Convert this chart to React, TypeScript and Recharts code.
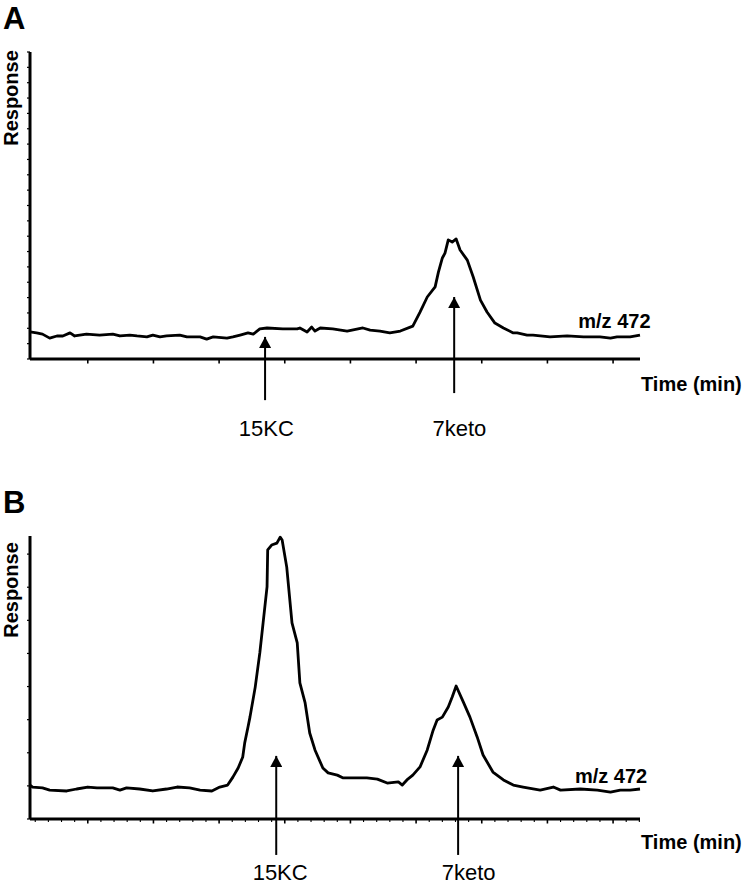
import { LineChart, Line, XAxis, YAxis, ReferenceLine, ReferenceDot } from "recharts";

const FONT = "'Liberation Sans', Arial, Helvetica, sans-serif";

const timesA = [
  0.12, 0.22, 0.31, 0.42, 0.53, 0.62, 0.73, 0.8, 0.98, 1.18,
  1.38, 1.49, 1.64, 1.75, 1.9, 1.99, 2.1, 2.2, 2.4, 2.51,
  2.71, 2.81, 2.91, 3.12, 3.21, 3.32, 3.44, 3.52, 3.62, 3.73,
  3.97, 4.19, 4.23, 4.34, 4.41, 4.46, 4.54, 4.73, 4.95, 5.19,
  5.3, 5.45, 5.6, 5.76, 5.95, 6.06, 6.17, 6.29, 6.34, 6.4,
  6.44, 6.49, 6.55, 6.61, 6.67, 6.78, 6.87, 6.98, 7.08, 7.2,
  7.33, 7.48, 7.54, 7.69, 7.78, 8.04, 8.3, 8.55, 8.8, 8.96,
  9.06, 9.26, 9.41,
];
const responseA = [
  8.8, 8.5, 8.1, 6.8, 7.5, 7.5, 8.5, 7.5, 8.1, 7.8,
  8.1, 7.5, 7.8, 7.5, 7.2, 7.8, 7.2, 7.5, 7.8, 7.2,
  7.2, 6.5, 7.2, 6.8, 7.2, 7.8, 8.5, 8.1, 9.8, 10.1,
  9.8, 9.8, 10.1, 8.8, 10.4, 9.1, 10.1, 9.8, 9.1, 10.1,
  9.4, 9.1, 8.5, 9.1, 10.7, 15.3, 20.2, 23.5, 28.3, 32.9,
  34.5, 38.8, 38.1, 39.1, 35.5, 32.2, 26.7, 19.2, 15.3, 11.7,
  10.1, 8.5, 8.5, 7.8, 7.8, 7.2, 7.5, 7.2, 7.2, 6.8,
  7.2, 7.2, 7.8,
];

// trace B (m/z 472, sample with 15KC)
const timesB = [
  0.12, 0.16, 0.31, 0.42, 0.68, 0.83, 1.0, 1.14, 1.38, 1.49,
  1.59, 1.79, 1.99, 2.2, 2.36, 2.55, 2.71, 2.89, 3.01, 3.13,
  3.21, 3.29, 3.36, 3.39, 3.44, 3.47, 3.55, 3.62, 3.67, 3.73,
  3.74, 3.8, 3.88, 3.93, 3.96, 4.03, 4.11, 4.19, 4.23, 4.31,
  4.38, 4.46, 4.58, 4.66, 4.8, 4.89, 5.04, 5.25, 5.41, 5.56,
  5.73, 5.79, 5.86, 5.95, 6.06, 6.17, 6.26, 6.32, 6.4, 6.49,
  6.55, 6.61, 6.72, 6.82, 6.93, 7.02, 7.17, 7.33, 7.48, 7.63,
  7.89, 8.09, 8.2, 8.5, 8.76, 8.96, 9.11, 9.26, 9.41,
];
const responseB = [
  12.0, 11.3, 11.0, 10.2, 9.9, 10.6, 11.3, 11.0, 11.0, 10.2,
  11.0, 10.6, 9.9, 10.6, 11.3, 11.0, 10.2, 9.9, 11.3, 12.0,
  14.8, 18.0, 21.9, 26.9, 32.5, 36.0, 46.6, 58.7, 69.3, 82.0,
  95.1, 96.8, 97.5, 99.6, 98.6, 89.0, 69.3, 62.2, 48.1, 41.0,
  30.4, 24.4, 18.0, 16.3, 15.5, 14.5, 14.5, 14.5, 14.1, 12.7,
  13.1, 12.0, 13.8, 15.5, 18.4, 24.4, 31.4, 35.0, 36.0, 39.6,
  43.1, 47.0, 41.3, 36.0, 29.0, 22.6, 16.6, 13.8, 12.0, 11.3,
  10.2, 11.3, 10.2, 10.6, 10.2, 9.5, 10.2, 10.2, 10.6,
];

const timeDomain = [0.12, 9.41];
const majorTicks = [1, 2, 3, 4, 5, 6, 7, 8, 9];
const ticksB = [
  0.2, 0.4, 0.6, 0.8, 1, 1.2, 1.4, 1.6, 1.8, 2, 2.2, 2.4, 2.6, 2.8, 3, 3.2, 3.4, 3.6, 3.8, 4,
  4.2, 4.4, 4.6, 4.8, 5, 5.2, 5.4, 5.6, 5.8, 6, 6.2, 6.4, 6.6, 6.8, 7, 7.2, 7.4, 7.6, 7.8, 8,
  8.2, 8.4, 8.6, 8.8, 9, 9.2, 9.4,
];
const yTicksA = [0, 5, 10, 15, 20, 25, 30, 35, 40, 45, 50, 55, 60, 65, 70, 75, 80, 85, 90, 95, 100];
const yTicksB = [0, 11.7, 23.4, 35.1, 46.8, 58.5, 70.2, 81.9, 93.6];

// arrows: retention time, arrow tip, arrow tail, label position (time, response)
const compounds = ["15KC", "7keto"];
const arrowsA = [
  { t: 3.7, tip: 7.2, tail: -13.4, labelT: 3.72, labelY: -25.1 },
  { t: 6.58, tip: 20.2, tail: -11.1, labelT: 6.66, labelY: -25.1 },
];
const arrowsB = [
  { t: 3.87, tip: 22.3, tail: -12.7, labelT: 3.93, labelY: -21.6 },
  { t: 6.64, tip: 22.3, tail: -12.7, labelT: 6.8, labelY: -21.6 },
];
const ionLabel = "m/z 472";

const dataA = timesA.map((t, i) => ({ t, r: responseA[i] }));
const dataB = timesB.map((t, i) => ({ t, r: responseB[i] }));

const xTick = (props: any) => {
  const { x, y, payload } = props;
  const major = Number.isInteger(payload.value);
  return (
    <line x1={x} x2={x} y1={y} y2={y + (major ? 4.5 : 3)} stroke="#000" strokeWidth={major ? 1.6 : 1.1} />
  );
};

function Panel(props: {
  id: string;
  top: number;
  height: number;
  marginTop: number;
  plotHeight: number;
  data: { t: number; r: number }[];
  xTicks: number[];
  yTicks: number[];
  arrows: typeof arrowsA;
  ionAt: { t: number; y: number };
  respOffset: number;
  timeOffset: number;
}) {
  const { id, top, height, marginTop, plotHeight, data, xTicks, yTicks, arrows, ionAt, respOffset, timeOffset } = props;
  const axisHeight = height - marginTop - plotHeight;
  return (
    <div style={{ position: "absolute", left: 0, top }}>
      <LineChart width={747} height={height} data={data} margin={{ top: marginTop, right: 107, left: 0, bottom: 0 }}>
        <defs>
          <marker
            id={`arrow${id}`}
            viewBox="0 0 11 12"
            refX={11}
            refY={6}
            markerWidth={11}
            markerHeight={12}
            markerUnits="userSpaceOnUse"
            orient="auto"
          >
            <path d="M0,0 L11,6 L0,12 Z" fill="#000" />
          </marker>
        </defs>
        <XAxis
          dataKey="t"
          type="number"
          domain={timeDomain}
          ticks={xTicks}
          interval={0}
          height={axisHeight}
          axisLine={{ stroke: "#000", strokeWidth: 3 }}
          tickLine={false}
          tickSize={0}
          tickMargin={0}
          tick={xTick}
          label={{
            content: (p: any) => (
              <text
                x={p.viewBox.x + p.viewBox.width + 1}
                y={p.viewBox.y + timeOffset}
                fontFamily={FONT}
                fontWeight="bold"
                fontSize={20}
                fill="#000"
              >
                Time (min)
              </text>
            ),
          }}
        />
        <YAxis
          type="number"
          domain={[0, 100]}
          ticks={yTicks}
          interval={0}
          width={30}
          axisLine={{ stroke: "#000", strokeWidth: 3 }}
          tickLine={{ stroke: "#000", strokeWidth: 1.2 }}
          tickSize={3}
          tickFormatter={() => ""}
          label={{
            content: (p: any) => {
              const cx = p.viewBox.x + 17.5;
              const cy = p.viewBox.y + respOffset;
              return (
                <text
                  x={cx}
                  y={cy}
                  transform={`rotate(-90, ${cx}, ${cy})`}
                  textAnchor="middle"
                  fontFamily={FONT}
                  fontWeight="bold"
                  fontSize={20}
                  fill="#000"
                >
                  Response
                </text>
              );
            },
          }}
        />
        <Line
          type="linear"
          dataKey="r"
          stroke="#000"
          strokeWidth={2.8}
          dot={false}
          isAnimationActive={false}
          strokeLinejoin="round"
        />
        {arrows.map((a, i) => (
          <ReferenceLine
            key={`arr${i}`}
            segment={[
              { x: a.t, y: a.tail },
              { x: a.t, y: a.tip },
            ]}
            ifOverflow="visible"
            stroke="#000"
            strokeWidth={2}
            markerEnd={`url(#arrow${id})`}
          />
        ))}
        {arrows.map((a, i) => (
          <ReferenceDot
            key={`lab${i}`}
            x={a.labelT}
            y={a.labelY}
            r={0}
            ifOverflow="visible"
            shape={(p: any) => (
              <text x={p.cx} y={p.cy} textAnchor="middle" fontFamily={FONT} fontSize={22} fill="#000">
                {compounds[i]}
              </text>
            )}
          />
        ))}
        <ReferenceDot
          x={ionAt.t}
          y={ionAt.y}
          r={0}
          ifOverflow="visible"
          shape={(p: any) => (
            <text x={p.cx} y={p.cy} textAnchor="middle" fontFamily={FONT} fontWeight="bold" fontSize={20} fill="#000">
              {ionLabel}
            </text>
          )}
        />
      </LineChart>
    </div>
  );
}

export default function App() {
  return (
    <div style={{ position: "absolute", left: 0, top: 0, width: 747, height: 885, background: "#fff", fontFamily: FONT }}>
      <div style={{ position: "absolute", left: 3, top: 3, fontSize: 31, fontWeight: "bold", lineHeight: 1 }}>A</div>
      <div style={{ position: "absolute", left: 3, top: 487, fontSize: 31, fontWeight: "bold", lineHeight: 1 }}>B</div>
      <Panel
        id="A"
        top={0}
        height={445}
        marginTop={52}
        plotHeight={307}
        data={dataA}
        xTicks={majorTicks}
        yTicks={yTicksA}
        arrows={arrowsA}
        ionAt={{ t: 9.02, y: 10.1 }}
        respOffset={46}
        timeOffset={32}
      />
      <Panel
        id="B"
        top={445}
        height={440}
        marginTop={91}
        plotHeight={283}
        data={dataB}
        xTicks={ticksB}
        yTicks={yTicksB}
        arrows={arrowsB}
        ionAt={{ t: 8.97, y: 12.7 }}
        respOffset={54}
        timeOffset={30}
      />
    </div>
  );
}
